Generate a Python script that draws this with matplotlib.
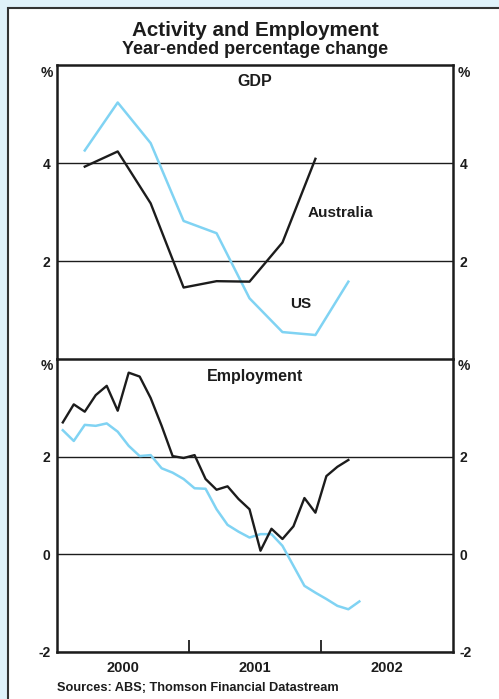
import matplotlib
matplotlib.use('Agg')
import matplotlib.pyplot as plt
from matplotlib.patches import Rectangle

plt.rcParams['font.family'] = ['Liberation Sans', 'DejaVu Sans']
plt.rcParams['font.weight'] = 'bold'
plt.rcParams['axes.unicode_minus'] = False

# GDP, quarterly, Mar-2000 .. Mar-2002
gdp_quarters = ['2000-03', '2000-06', '2000-09', '2000-12', '2001-03',
                '2001-06', '2001-09', '2001-12', '2002-03']
gdp_us = [4.26, 5.24, 4.41, 2.82, 2.57, 1.24, 0.55, 0.49, 1.58]
gdp_aus = [3.93, 4.24, 3.18, 1.46, 1.59, 1.58, 2.38, 4.09]

# Employment, monthly, Jan-2000 ..
emp_start = '2000-01'
emp_aus = [2.70, 3.07, 2.92, 3.26, 3.45, 2.94, 3.72, 3.64, 3.20, 2.63, 2.01, 1.97,
           2.03, 1.54, 1.32, 1.39, 1.13, 0.92, 0.07, 0.52, 0.31, 0.57, 1.15, 0.85,
           1.60, 1.79, 1.93]
emp_us = [2.54, 2.32, 2.65, 2.63, 2.68, 2.51, 2.22, 2.01, 2.03, 1.76, 1.67, 1.54,
          1.35, 1.34, 0.92, 0.60, 0.46, 0.34, 0.41, 0.41, 0.17, -0.24, -0.65, -0.79,
          -0.92, -1.06, -1.13, -0.97]

year_labels = ['2000', '2001', '2002']

BLUE = '#80d3f3'
BLACK = '#1c1c1c'
BG = '#e0f2fa'


def to_x(ym):
    y, m = ym.split('-')
    return int(y) + (int(m) - 0.5) / 12


def monthly_x(start, n):
    y, m = map(int, start.split('-'))
    x0 = y + (m - 0.5) / 12
    return [x0 + i / 12 for i in range(n)]


W, H = 499, 699
fig = plt.figure(figsize=(W / 100, H / 100), dpi=100, facecolor=BG)
fig.patches.append(Rectangle((8 / W, -0.1), 1.2, (H - 8) / H + 0.1, transform=fig.transFigure,
                             facecolor='white', edgecolor='#333333', lw=1.5, zorder=-10))

left, right = 57.3, 452.7
top, mid, bottom = 65.3, 359.0, 651.7
ax1 = fig.add_axes([left / W, 1 - mid / H, (right - left) / W, (mid - top) / H])
ax2 = fig.add_axes([left / W, 1 - bottom / H, (right - left) / W, (bottom - mid) / H])

gq = [to_x(q) for q in gdp_quarters]
ax1.plot(gq, gdp_us, color=BLUE, lw=1.8, zorder=3)
ax1.plot(gq[:len(gdp_aus)], gdp_aus, color=BLACK, lw=1.7, zorder=4)
ax1.set_ylim(0, 6)
ax1.set_yticks([2, 4])

ax2.plot(monthly_x(emp_start, len(emp_us)), emp_us, color=BLUE, lw=1.8, zorder=3)
ax2.plot(monthly_x(emp_start, len(emp_aus)), emp_aus, color=BLACK, lw=1.7, zorder=4)
ax2.set_ylim(-2, 4)
ax2.set_yticks([-2, 0, 2])

for ax in (ax1, ax2):
    ax.set_xlim(2000, 2003)
    ax.set_facecolor('none')
    for s in ax.spines.values():
        s.set_linewidth(1.8)
        s.set_color(BLACK)
    ax.grid(axis='y', color=BLACK, lw=1.0)
    ax.set_axisbelow(True)
    ax.tick_params(axis='y', length=0, labelsize=10, labelright=True, pad=5,
                   labelcolor=BLACK)
    ax.text(-0.012, 0.975, '%', transform=ax.transAxes, ha='right', va='center',
            fontsize=10, color=BLACK)
    ax.text(1.012, 0.975, '%', transform=ax.transAxes, ha='left', va='center',
            fontsize=10, color=BLACK)

ax1.spines['bottom'].set_visible(False)
ax1.set_xticks([])
ax2.set_xticks([2001, 2002])
ax2.set_xticklabels([])
ax2.set_xticks([y + 0.5 for y in range(2000, 2003)], minor=True)
ax2.set_xticklabels(year_labels, minor=True)
ax2.tick_params(axis='x', which='major', direction='in', length=9, width=1.3, color=BLACK)
ax2.tick_params(axis='x', which='minor', length=0, labelsize=10.5, pad=7, labelcolor=BLACK)

ax1.text(0.5, 0.945, 'GDP', transform=ax1.transAxes, ha='center', va='center',
         fontsize=11.5, color=BLACK)
ax2.text(0.5, 0.94, 'Employment', transform=ax2.transAxes, ha='center', va='center',
         fontsize=11.5, color=BLACK)
ax1.text(2002.145, 2.98, 'Australia', ha='center', va='center', fontsize=11, color=BLACK)
ax1.text(2001.85, 1.12, 'US', ha='center', va='center', fontsize=11, color=BLACK)

fig.text(255 / W, 1 - 30 / H, 'Activity and Employment', ha='center', va='center',
         fontsize=14.9, color=BLACK)
fig.text(255 / W, 1 - 49.5 / H, 'Year-ended percentage change', ha='center', va='center',
         fontsize=13, color=BLACK)
fig.text(57 / W, 1 - 688 / H, 'Sources: ABS; Thomson Financial Datastream', ha='left',
         va='center', fontsize=9.2, color=BLACK)

fig.savefig('out.png', dpi=100, facecolor=BG)
